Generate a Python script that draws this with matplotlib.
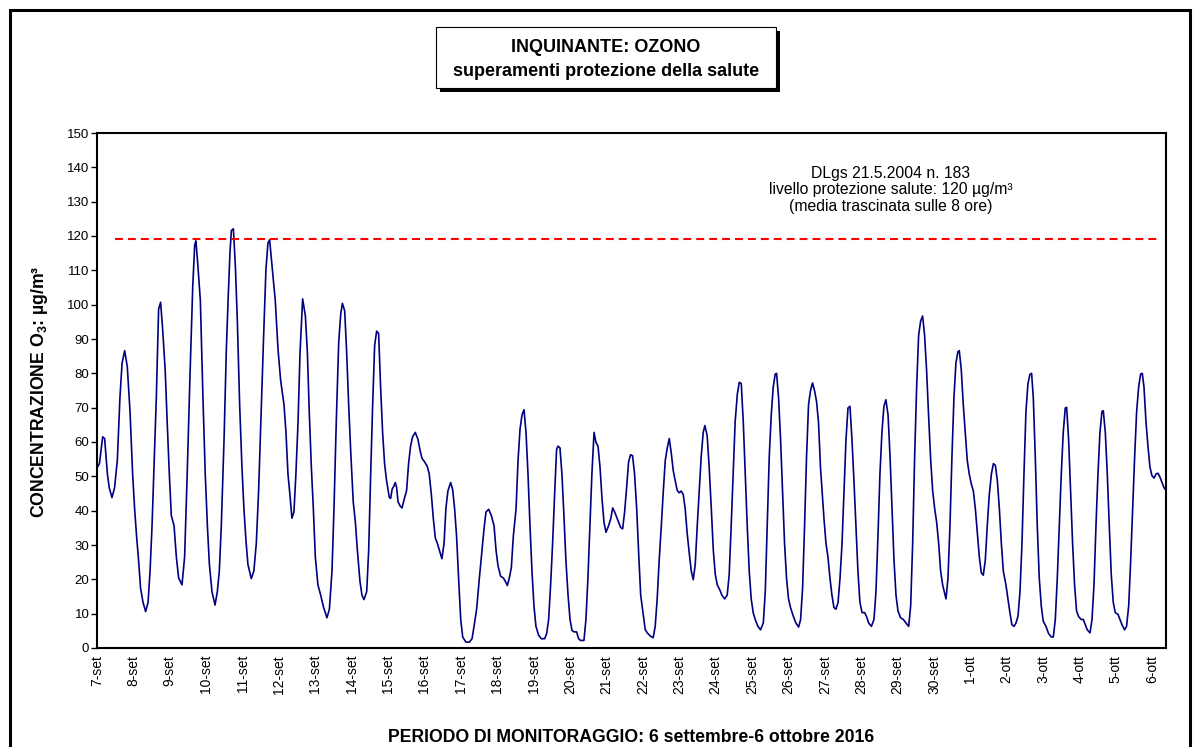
import matplotlib
matplotlib.use("Agg")
import matplotlib.pyplot as plt
from matplotlib.patches import Rectangle

plt.rcParams['font.family'] = ['Liberation Sans', 'DejaVu Sans']
plt.rcParams['mathtext.fontset'] = 'custom'
plt.rcParams['mathtext.rm'] = 'Liberation Sans'
plt.rcParams['mathtext.bf'] = 'Liberation Sans:bold'

# ore dall'inizio del periodo (0 = 7-set), media trascinata 8 ore
ore = [0, 1.6, 3.7, 5, 6.8, 8, 9.8, 11.5, 13.3, 15, 16.4, 18.1, 19.8, 21.6, 23.3,
       24.6, 25.9, 27.2, 28.5, 30.1, 31.8, 33.4, 34.7, 36, 37.3, 38.8, 40.3, 41.6,
       42.9, 44.6, 46, 47.3, 48.6, 50.4, 51.9, 53.4, 55.6, 57.3, 59, 60.8, 62.6,
       63.9, 64.7, 66, 67.6, 69.3, 70.8, 72.2, 73.5, 75.2, 77.2, 78.7, 80, 81.3,
       83.1, 84.6, 85.9, 87, 87.9, 89.2, 90.5, 91.8, 93.3, 94.8, 96.1, 97.4, 98.7,
       100.9, 102.6, 104.2, 105.7, 107.5, 109, 110.5, 111.8, 112.9,
       116.6, 118.4, 120.1, 122.3, 123.6, 124.9, 126.2, 127.5, 128.8, 130.1, 131.5,
       132.8, 134.5, 136.3, 137.6, 138.9, 140.2, 141.5, 142.8, 144.5, 146.3, 148.2,
       150.4, 152, 153.7, 155, 156.5, 158.1, 159.4, 160.5, 162, 163.3, 164.6, 166.1,
       167.6, 169, 170.3, 172, 173.3, 174.6, 176.4, 177.7, 179, 180.3, 181.6, 182.9,
       184.2, 185.5, 186.8, 188.1, 189.4, 191.2, 192.1, 193, 194.2, 195.1, 196,
       196.9, 198.2, 199.5, 200.8, 202.5, 203.8, 205.1, 206.4, 208.2, 209.9, 211.2,
       212.5, 214.3, 216, 217.3, 218.7, 220, 221.3, 222.6, 223.9, 225.6, 227, 228.2,
       229.5, 231.3, 232.6, 233.9, 235.2,
       236.5, 237.9, 239.2, 241.3, 243.5, 245.3, 246.6, 248.3, 250.1, 251.8, 253.1,
       254.4, 256.2, 257.9, 259.7, 261, 262.3, 264, 265.8, 267.1, 268.4, 269.7, 271,
       272.3, 274.1, 275.4, 276.7, 278, 279.3, 280.6, 281.9, 283.2, 284.5, 285.8,
       287.1, 288.9, 290.6, 292.8, 294.1, 295.4, 296.7, 298, 299.3, 300.6, 301.5,
       302.8, 304.1, 305.4, 306.7, 308.1, 309.4, 310.7, 312, 313.7, 315, 316.3,
       318.5, 319.8, 321.1, 322.4, 323.7, 325.1, 326.4, 327.7, 329, 330.3, 331.6,
       332.9, 334.6, 336, 337.3, 338.6, 339.9, 341.2, 342.5, 343.8, 345.1, 346.4,
       347.7, 349, 350.3, 351.6, 353, 354.3, 355.6,
       358.6, 360.3, 362.1, 363.8, 365.1, 366.4, 367.7, 369.1, 370.4, 371.7, 373,
       374.3, 375.6, 376.9, 378.2, 379.5, 380.8, 382.1, 383.4, 384.7, 386, 387.4,
       388.7, 390, 391.3, 392.6, 393.9, 395.2, 396.5, 397.6, 399.1, 400.4, 401.8,
       403.1, 404.4, 405.7, 407.4, 408.7, 410.5, 412.2, 413.5, 414.8, 416.1, 417.4,
       418.8, 420.1, 421.4, 422.7, 424, 425.3, 426.6, 427.9, 429.2, 430.5, 432.3,
       434, 435.8, 437.1, 438.4, 439.7, 441, 442.3, 443.6, 444.5, 445.8, 447.1,
       448.4, 449.7, 451, 452.3, 453.6, 455.4, 457.1, 458.9, 460.2, 461.5, 462.8,
       464.1, 465.4, 466.7, 468, 469.3, 470.6, 471.9, 473.2,
       475.5, 476.8, 478.1, 479.4, 480.7, 482, 483.3, 484.7, 486, 487.3, 488.6,
       489.9, 491.2, 492.5, 493.8, 495.1, 496.4, 497.7, 499, 500.4, 502.1, 503.4,
       504.7, 506.5, 508.2, 509.5, 510.8, 512.1, 513.4, 514.7, 516, 517.4, 518.7,
       520, 521.3, 522.6, 523.9, 525.6, 527.4, 529.1, 530.9, 532.2, 533.5, 534.8,
       536.1, 537.4, 538.7, 540, 541.3, 542.6, 543.9, 545.3, 546.6, 547.9, 549.2,
       550.5, 551.8, 553.1, 555.3, 556.6, 557.9, 559.2, 560.5, 561.8, 563.1, 564,
       565.3, 566.6, 567.9, 569.2, 570.5, 571.9, 573.2, 574.5, 575.8, 577.1, 578.4,
       579.7, 581, 582.3, 583.6, 585, 586.3, 587.6, 588.9, 590.2, 591.5, 592.8,
       594.5, 595.8, 597.1, 598.4, 599.8, 601.1, 602.4, 603.7, 605, 606.3, 607.6,
       608.9, 610.2, 611.3, 612.4, 613.7, 615, 616.3, 617.6, 618.9, 620.7, 622.4,
       624.2, 625.5, 626.8, 628.1, 629.4, 630.7, 632, 633.3, 634.2, 635.5, 636.8,
       638.1, 639.4, 640.7, 642.1, 643.8, 645.1, 646.4, 647.7, 649.5, 650.8, 652.1,
       653.4, 654.7, 656, 657.3, 658.2, 659.5, 660.8, 662.1, 663.4, 664.7, 666,
       667.8, 669.1, 670.4, 672.1, 673.4, 674.8, 676.1, 677.4, 678.7, 680, 681.3,
       682.6, 683.7, 684.8, 686.1, 687.4, 688.7, 690, 691.4, 692.7, 694, 695.3,
       696.6, 697.9, 699.2]

ozono = [52.5, 53.7, 61.5, 61, 50.7, 46.7, 43.8, 46.7, 54.7, 72.9, 83, 86.6, 82, 68.9, 50.7,
         40.6, 32.5, 25.5, 17.4, 13.3, 10.6, 13.3, 22.4, 35.6, 52.7, 72.9, 98.7, 100.7,
         93.1, 81, 64.8, 50.7, 38.6, 35.6, 26.5, 20.4, 18.4, 26.5, 50.7, 79, 105,
         117.4, 118.6, 111.3, 101.2, 72.9, 50.7, 35.6, 24.4, 16.4, 12.5, 16.4, 22.4, 35.6,
         60.8, 87, 103.2, 115.4, 121.6, 122.1, 111.3, 95.2, 70.9, 52.7, 40.6, 31.5, 24.4,
         20.2, 22.4, 30.5, 45.7, 70.9, 91.1, 110.3, 117.9, 118.9,
         101.2, 87, 78, 70.9, 62.8, 50.7, 44.6, 37.8, 39.6, 50.7, 65.9,
         86.1, 101.7, 96.7, 86.1, 67.9, 52.7, 40.6, 26.5, 18.4, 15.4, 11.8,
         8.8, 11.3, 22.4, 40.6, 65.9, 89.1, 97.2, 100.4, 98.2, 86.1, 70.9, 55.8,
         42.6, 36.6, 28.5, 19.4, 15.4, 14.1, 16.4, 28.5, 50.7, 70.9, 88.1, 92.3,
         91.6, 76, 62.8, 53.7, 48.7, 43.8, 43.6, 46.2, 47.2, 48.2, 46.7,
         42.6, 41.4, 40.8, 43.1, 45.9, 53.7, 58.8, 61.5, 62.8, 60.8, 57.8,
         55.3, 54.2, 52.9, 50.7, 44.6, 37.6, 32, 30.5, 28.5, 26, 30.5, 40.6,
         45.7, 48.2, 46.2, 40.6, 32.5,
         20.4, 8.3, 3.2, 1.7, 1.7, 2.7, 6.3, 11.3, 20.4, 28.5, 34.5,
         39.6, 40.4, 38.6, 35.6, 28.5, 23.9, 20.9, 20.4, 19.4, 18.2, 20.4, 23.4,
         32.5, 40.6, 54.7, 63.8, 67.9, 69.4, 62.8, 50.7, 35.6, 22.4, 12.3,
         6.3, 3.7, 2.7, 2.7, 4.2, 8.3, 18.4, 30.5, 44.6, 57.8, 58.8,
         58.3, 50.7, 38.6, 25.5, 15.4, 8.3, 5.1, 4.7, 4.7, 2.7, 2.2,
         2.2, 8.3, 20.4, 35.6, 50.7, 62.8, 59.8, 58.8, 52.7, 43.6, 36.6,
         33.7, 35.6, 37.6, 40.8, 39.6, 38.1, 36.6, 35.1, 34.7, 39.6, 46.7,
         54.2, 56.3, 56, 50.7, 40.6, 27.5, 15.4,
         5.3, 4.2, 3.4, 3, 6.3, 14.3, 25.5, 35.6, 45.7, 54.7, 58.3,
         61, 56.8, 51.7, 48.7, 45.9, 45.2, 45.7, 44.8, 40.6, 33.5, 27.5,
         22.4, 19.9, 24.4, 35.6, 45.7, 55.8, 62.8, 64.8, 61.8, 52.7, 40.6,
         28.5, 21.4, 18.4, 16.9, 15.4, 14.3, 15.4, 21.4, 35.6, 50.7, 65.9,
         73.9, 77.4, 77, 65.9, 50.7, 35.6, 22.4, 14.3, 10.3, 8.3, 6.3,
         5.3, 7.3, 16.4, 35.6, 55.8, 67.9, 76, 79.8, 80, 72.9, 60.8,
         45.7, 30.5, 20.4, 14.3, 11.8, 9.3, 7.3, 6.1, 8.3, 17.4, 35.6,
         55.8, 70.9, 75, 77.2, 75, 71.9, 65.9, 52.7,
         37.6, 30.5, 26.5, 20.4, 15.4, 11.8, 11.3, 13.3, 20.4, 30.5, 45.7,
         60.8, 69.9, 70.4, 60.8, 48.7, 35.6, 22.4, 13.3, 10.3, 10.3, 9.1,
         7.3, 6.3, 8.3, 16.4, 32.5, 50.7, 62.8, 70.4, 72.3, 67.9, 55.8,
         40.6, 25.5, 15.4, 10.8, 8.8, 8.3, 7.3, 6.3, 12.3, 30.5, 55.8,
         76, 91.1, 95.2, 96.7, 91.1, 81, 67.9, 54.7, 45.7, 40.6, 36.6,
         30.5, 22.4, 18.4, 14.3, 20.4, 35.6, 55.8, 72.9, 83, 86.3, 86.6,
         81, 70.9, 62.8, 54.7, 50.7, 47.7, 45.7, 40.6, 33.5, 26.5, 21.9,
         21.2, 25.5, 35.6, 44.6, 50.7, 53.7, 53.2, 48.7, 40.6, 30.5, 22.4,
         18.4, 14.3, 10.3, 6.8, 6.3, 7.3, 9.3, 16.4, 30.5, 50.7, 68.9,
         77, 79.7, 80, 72.9, 55.8, 35.6, 20.4, 12.3, 7.8, 6.3, 4.2,
         3.2, 3.2, 8.3, 20.4, 35.6, 50.7, 62.8, 69.9, 70.1, 60.8, 45.7,
         30.5, 18.4, 10.8, 9.1, 8.3, 8.3, 6.8, 5.3, 4.4, 8.3, 18.4,
         35.6, 50.7, 62.8, 68.9, 69.1, 62.8, 50.7, 35.6, 21.4, 13.3, 10.3,
         9.8, 8.3, 6.8, 5.3, 6.3, 12.3, 25.5, 40.6, 55.8, 68.9, 76,
         79.8, 80, 76, 65.9, 58.8, 52.7, 50.2, 49.5, 50.7, 50.9, 49.7,
         48.2, 46.7, 45.9]

# soglia protezione salute (serie tratteggiata)
soglia_ore = [12, 693]
soglia_valore = [119, 119]

giorni = ['7-set', '8-set', '9-set', '10-set', '11-set', '12-set', '13-set', '14-set',
          '15-set', '16-set', '17-set', '18-set', '19-set', '20-set', '21-set', '22-set',
          '23-set', '24-set', '25-set', '26-set', '27-set', '28-set', '29-set', '30-set',
          '1-ott', '2-ott', '3-ott', '4-ott', '5-ott', '6-ott']
passo_giorno = 23.8  # distanza fra le etichette nelle unita' dell'asse
pos_etichette = [passo_giorno * i for i in range(len(giorni))]

W, H = 1193, 747
fig = plt.figure(figsize=(W / 100, H / 100), dpi=100)

# cornice esterna
fig.patches.append(Rectangle((10 / W, -0.05), 1180 / W, 1.05 - 10 / H, transform=fig.transFigure,
                             fill=False, edgecolor='black', linewidth=2.2))

# riquadro titolo con ombra
bx0, by0, bw, bh = 436 / W, 1 - 88 / H, 340 / W, 61 / H
fig.patches.append(Rectangle((bx0 + 4 / W, by0 - 4 / H), bw, bh, transform=fig.transFigure,
                             facecolor='black', edgecolor='black', linewidth=0))
fig.patches.append(Rectangle((bx0, by0), bw, bh, transform=fig.transFigure,
                             facecolor='white', edgecolor='black', linewidth=0.8))
fig.text(bx0 + bw / 2, 1 - 47 / H, 'INQUINANTE: OZONO', ha='center', va='center',
         fontsize=13, fontweight='bold')
fig.text(bx0 + bw / 2, 1 - 72 / H, 'superamenti protezione della salute', ha='center', va='center',
         fontsize=13, fontweight='bold')

ax = fig.add_axes([97 / W, 1 - 648 / H, 1069 / W, 515 / H])
ax.plot(ore, ozono, color='#000080', linewidth=1.2)
ax.plot(soglia_ore, soglia_valore, color='#FF0000', linewidth=1.5, dashes=(3.8, 2.4))

ax.set_xlim(0, 699.2)
ax.set_ylim(0, 150)
ax.set_yticks(range(0, 151, 10))
ax.set_xticks(pos_etichette)
ax.set_xticklabels(giorni, rotation=90, fontsize=10)
ax.tick_params(axis='x', length=0, pad=5)
ax.tick_params(axis='y', direction='out', length=4.5, width=1, labelsize=9.5, pad=1)
for s in ax.spines.values():
    s.set_linewidth(1.5)

ax.text(519, 133.4, 'DLgs 21.5.2004 n. 183\nlivello protezione salute: 120 µg/m³\n(media trascinata sulle 8 ore)',
        ha='center', va='center', fontsize=11.3, linespacing=1.12)

fig.text(40 / W, 1 - 392 / H, r'CONCENTRAZIONE O$_\mathbf{3}$: µg/m³', rotation=90, ha='center',
         va='center', fontsize=12.7, fontweight='bold')
fig.text(631 / W, 1 - 737 / H, 'PERIODO DI MONITORAGGIO: 6 settembre-6 ottobre 2016', ha='center',
         va='center', fontsize=12.7, fontweight='bold')

fig.savefig('out.png', dpi=100)
